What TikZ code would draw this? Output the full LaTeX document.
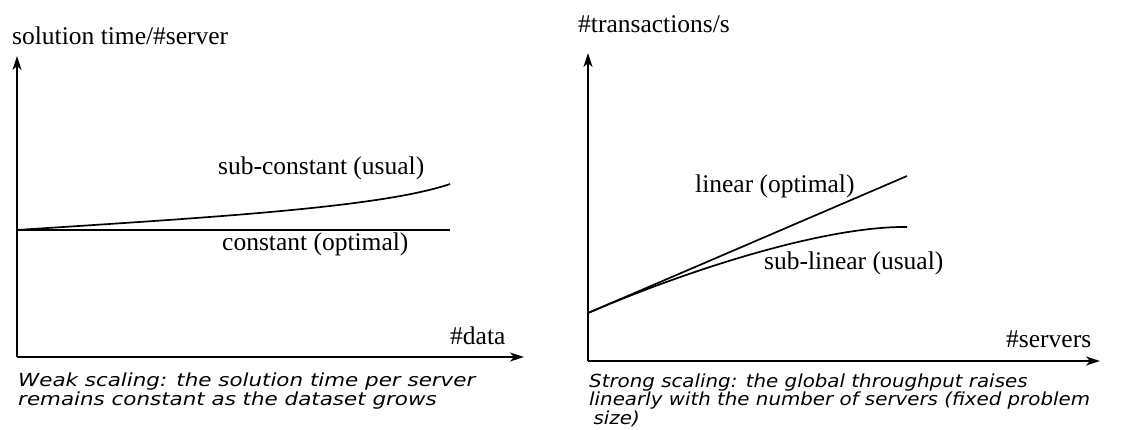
\documentclass[tikz,border=0pt]{standalone}
\usepackage{graphicx}
\usepackage{fontspec}
\setmainfont{Liberation Serif}
\newfontfamily\capfont{DejaVu Sans}
\usetikzlibrary{arrows.meta}
\tikzset{
    axis/.style = {line width=1.7pt, -{Stealth[length=14pt, width=9pt, inset=4pt]}},
    curve/.style = {line width=1.7pt},
    lbl/.style = {font=\fontsize{25.5}{28}\selectfont, inner sep=0pt, anchor=base west},
    caption/.style = {font=\capfont\itshape\fontsize{18}{15.5}\selectfont, inner sep=0pt,
                      align=left, anchor=base west, xscale=1.19}
}

\begin{document}
\begin{tikzpicture}[x=1pt, y=-1pt]
\useasboundingbox (0,0) rectangle (1135,430);

% weak scaling
\coordinate (O1) at (17,357);
\coordinate (Y1) at (17,56);
\coordinate (X1) at (524,357);
\coordinate (S1) at (17,230);
\coordinate (C1) at (450,230);
\coordinate (U1) at (450,184);
\draw[axis] (O1) -- (Y1);
\draw[axis] (O1) -- (X1);
\draw[curve] (S1) -- (C1);
\draw[curve] (S1) .. controls (200,218) and (380,208) .. (U1);

\node[lbl] (ylab1) at (12,45) {solution time/\#server};
\node[lbl] (xlab1) at (450,344) {\#data};
\node[lbl] (usual1) at (218,175) {sub-constant (usual)};
\node[lbl] (opt1) at (222,251) {constant (optimal)};
% base anchor sits on the last line
\node[caption] (cap1) at (18,405) {Weak scaling: the solution time per server\\remains constant as the dataset grows};

% strong scaling
\coordinate (O2) at (588,361);
\coordinate (Y2) at (588,53);
\coordinate (X2) at (1100,361);
\coordinate (S2) at (588,313);
\coordinate (L2) at (907,176);
\coordinate (U2) at (907,227);
\draw[axis] (O2) -- (Y2);
\draw[axis] (O2) -- (X2);
\draw[curve] (S2) -- (L2);
\draw[curve] (S2) .. controls (700,265) and (830,226) .. (U2);

\node[lbl] (ylab2) at (578,33) {\#transactions/s};
\node[lbl] (xlab2) at (1006,347) {\#servers};
\node[lbl] (opt2) at (695,193) {linear (optimal)};
\node[lbl] (usual2) at (764,270) {sub-linear (usual)};
\node[caption, xscale=0.925, font=\capfont\itshape\fontsize{18}{16.5}\selectfont] (cap2) at (589,424)
    {Strong scaling: the global throughput raises\\linearly with the number of servers (fixed problem\\\hspace*{4pt}size)};

\end{tikzpicture}
\end{document}
